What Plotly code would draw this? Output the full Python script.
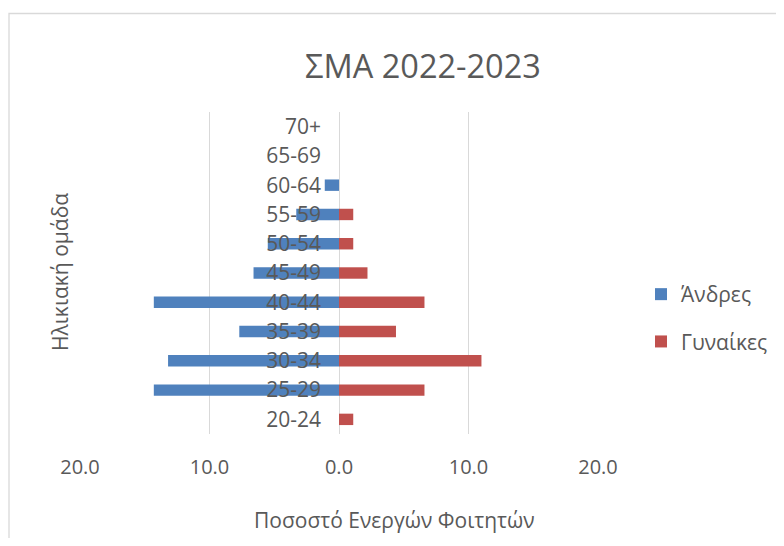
import plotly.graph_objects as go

age_groups = ["20-24", "25-29", "30-34", "35-39", "40-44", "45-49",
              "50-54", "55-59", "60-64", "65-69", "70+"]
men = [0.0, 14.3, 13.2, 7.7, 14.3, 6.6, 5.5, 3.3, 1.1, 0.0, 0.0]
women = [1.1, 6.6, 11.0, 4.4, 6.6, 2.2, 1.1, 1.1, 0.0, 0.0, 0.0]
x_tickvals = [-20, -10, 0, 10, 20]
x_ticktext = ["20.0", "10.0", "0.0", "10.0", "20.0"]

FONT = "Open Sans"
TXT = "#595959"
GRID = "#D9D9D9"

OFF = 8  # page body margin: figure origin sits at (8, 8) in the window
W, H = 784 - 2 * OFF, 546 - 2 * OFF
L, R, T, B = 80 - OFF, 598 - OFF, 112 - OFF, 434 - OFF


def fx(px):
    return (px - OFF - L) / (R - L)


def fy(py):
    return (B - (py - OFF)) / (B - T)


fig = go.Figure()
fig.add_trace(go.Bar(
    y=age_groups, x=[-v for v in men], orientation="h", name="Άνδρες",
    marker=dict(color="#4F81BD", line=dict(width=0)), width=0.39,
    legendgroup="m", customdata=men,
    hovertemplate="%{y}: %{customdata}<extra>Άνδρες</extra>"))
fig.add_trace(go.Bar(
    y=age_groups, x=women, orientation="h", name="Γυναίκες",
    marker=dict(color="#C0504D", line=dict(width=0)), width=0.39,
    legendgroup="f",
    hovertemplate="%{y}: %{x}<extra>Γυναίκες</extra>"))

fig.update_layout(
    width=W, height=H,
    margin=dict(l=L, r=W - R, t=T, b=H - B, pad=0, autoexpand=False),
    paper_bgcolor="white", plot_bgcolor="white",
    barmode="overlay",
    font=dict(family=FONT, color=TXT, size=20),
    title=dict(text="ΣΜΑ 2022-2023", x=(423 - OFF) / W, xanchor="center",
               y=1 - (66.5 - OFF) / H, yanchor="middle",
               font=dict(family=FONT, size=32.5, color=TXT)),
    xaxis=dict(range=[-20, 20], tickvals=x_tickvals, ticktext=x_ticktext,
               showgrid=True, gridcolor=GRID, gridwidth=1.3, zeroline=False,
               showline=False, ticks="", ticklabelstandoff=19,
               tickfont=dict(size=20, color=TXT), fixedrange=True,
               automargin=False),
    yaxis=dict(categoryorder="array", categoryarray=age_groups,
               range=[-0.5, 10.5], anchor="free", position=0.5,
               showgrid=False, zeroline=False, showline=False, ticks="",
               ticklabelstandoff=18, tickfont=dict(size=21, color=TXT),
               fixedrange=True, automargin=False),
    legend=dict(x=fx(641), y=fy(318), xanchor="left", yanchor="middle",
                orientation="v", traceorder="grouped", tracegroupgap=17,
                font=dict(size=21, color=TXT), bgcolor="rgba(0,0,0,0)"),
    showlegend=True,
)

fig.add_annotation(text="Ποσοστό Ενεργών Φοιτητών", xref="paper", yref="paper",
                   x=fx(394), y=fy(520), xanchor="center", yanchor="middle",
                   showarrow=False, font=dict(size=21, color=TXT, family=FONT))
fig.add_annotation(text="Ηλικιακή ομάδα", xref="paper", yref="paper",
                   x=fx(60), y=fy(272), xanchor="center", yanchor="middle",
                   textangle=-90, showarrow=False,
                   font=dict(size=21, color=TXT, family=FONT))

fig.add_shape(type="rect", xref="paper", yref="paper",
              x0=fx(9), x1=fx(800), y0=fy(13.5), y1=fy(560),
              line=dict(color=GRID, width=1.3), fillcolor="rgba(0,0,0,0)",
              layer="below")

fig.write_html("out.html")
